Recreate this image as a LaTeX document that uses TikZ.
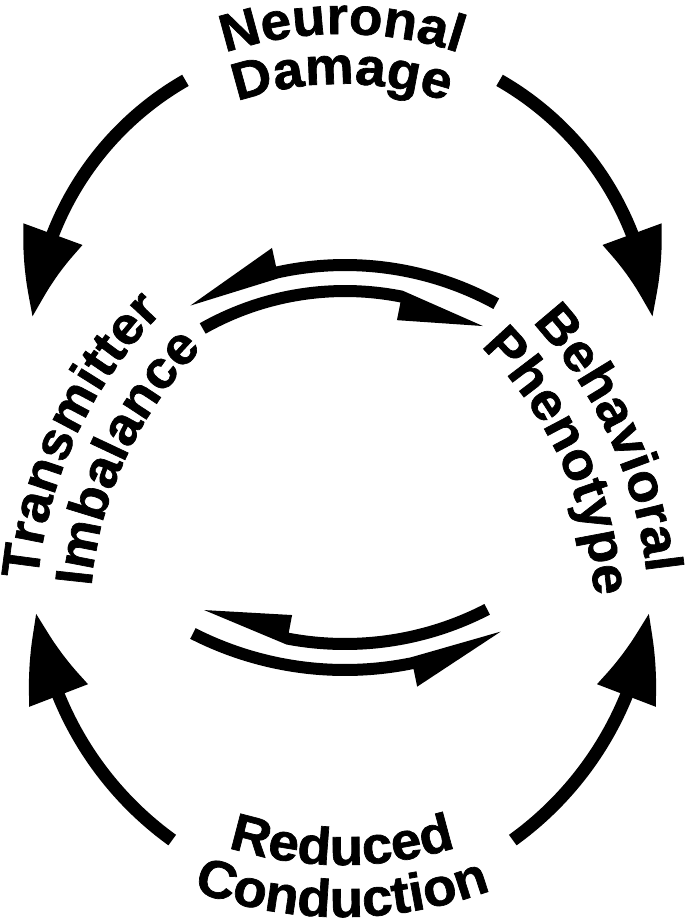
\documentclass[tikz,border=0pt]{standalone}
\usepackage{fontspec}
\newfontfamily\lblface[FakeStretch=1.04, BoldFont={* Bold}, BoldFeatures={FakeBold=1.3}]{Liberation Sans}
\usetikzlibrary{arrows.meta,bending,decorations.text}
\newcommand{\lbl}{\lblface\bfseries\fontsize{30}{32}\selectfont}

\begin{document}
\begin{tikzpicture}[x=0.02cm, y=0.02cm,
  bigarrow/.style={line width=0.26cm, -{Triangle[length=1.74cm, width=1.18cm, bend]}},
  harp/.style={fill=black},
  arctext/.style={decorate, decoration={text along path, text align=center, text={|\lbl|#1}}}]

\useasboundingbox (0,0) rectangle (685,-924);

% ---------- подписи по дугам
\path[arctext=Neuronal]   (342,-408) ++(140:374) arc[start angle=140, end angle=40, radius=374];
\path[arctext=Damage]     (342,-408) ++(140:324) arc[start angle=140, end angle=40, radius=324];
\path[arctext=Transmitter] (474,-620) ++(200:438) arc[start angle=200, end angle=110, radius=438];
\path[arctext=Imbalance]  (474,-620) ++(200:384) arc[start angle=200, end angle=110, radius=384];
\path[arctext=Behavioral] (211,-620) ++(69.5:438) arc[start angle=69.5, end angle=-20.5, radius=438];
\path[arctext=Phenotype]  (211,-620) ++(69.5:384) arc[start angle=69.5, end angle=-20.5, radius=384];
\path[arctext=Reduced]    (342,-487) ++(230:378) arc[start angle=230, end angle=310, radius=378];
\path[arctext=Conduction] (342,-487) ++(230:430) arc[start angle=230, end angle=310, radius=430];

% ---------- внешние стрелки
\path (337,-345) ++(119.8:305) coordinate (dmg-l);
\path (348,-345) ++(60.2:305)  coordinate (dmg-r);
\path (367,-570) ++(234.2:333) coordinate (cond-l);
\path (318,-570) ++(305.8:333) coordinate (cond-r);

\draw[bigarrow] (dmg-l)  arc[start angle=119.8, end angle=174.9, radius=305];
\draw[bigarrow] (dmg-r)  arc[start angle=60.2,  end angle=5.1,   radius=305];
\draw[bigarrow] (cond-l) arc[start angle=234.2, end angle=187.3, radius=333];
\draw[bigarrow] (cond-r) arc[start angle=305.8, end angle=352.7, radius=333];

% ---------- полустрелки между Transmitter и Behavioral (верхняя пара)
\begin{scope}[shift={(345,-580)}]
  \fill[harp] (61.3:321) arc[start angle=61.3, end angle=102.4, radius=321]
    -- (102.4:340) -- (119.4:315) -- (102.4:309)
    arc[start angle=102.4, end angle=61.3, radius=309] -- cycle;
  \fill[harp] (119.5:295) arc[start angle=119.5, end angle=78.7, radius=295]
    -- (61.5:289) -- (78.7:265) -- (78.7:283)
    arc[start angle=78.7, end angle=119.5, radius=283] -- cycle;
\end{scope}

% ---------- нижняя пара
\begin{scope}[shift={(345,-335)}]
  \fill[harp] (297.4:315) arc[start angle=297.4, end angle=259.3, radius=315]
    -- (242.9:309) -- (259.3:285) -- (259.3:303)
    arc[start angle=259.3, end angle=297.4, radius=303] -- cycle;
  \fill[harp] (243:329) arc[start angle=243, end angle=281.6, radius=329]
    -- (297.7:335) -- (281.6:359) -- (281.6:341)
    arc[start angle=281.6, end angle=243, radius=341] -- cycle;
\end{scope}
\end{tikzpicture}
\end{document}
